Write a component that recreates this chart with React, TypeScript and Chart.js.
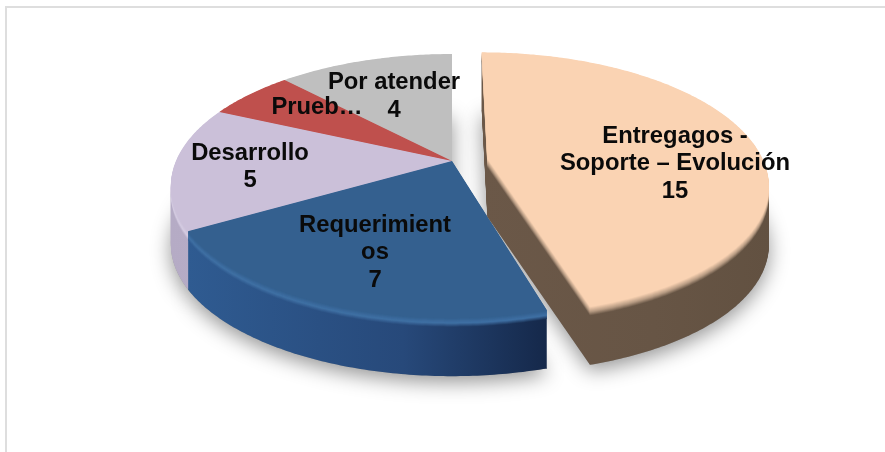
import React, { useEffect, useRef } from "react";
import { Chart, registerables } from "chart.js";

Chart.register(...registerables);

const categories = ["Entregagos - Soporte – Evolución", "Requerimientos", "Desarrollo", "Pruebas", "Por atender"];
const values = [15, 7, 5, 2, 4];
const labelLines = [
  ["Entregagos -", "Soporte – Evolución", "15"],
  ["Requerimient", "os", "7"],
  ["Desarrollo", "5"],
  ["Prueb…"],
  ["Por atender", "4"],
];

const topColors = ["#FAD3B3", "#34608F", "#CBC0D9", "#BF504D", "#BFBFBF"];
const rimColors = ["#B89C84", "#3F70A4", "#D6CDE3", "#D0625F", "#CCCCCC"];
const wallLeft = ["#6B5848", "#2F5B91", "#B5ABC5", "#8E3B39", "#8F8F8F"];
const wallMid = ["#675545", "#27497A", "#BBB1CB", "#8E3B39", "#8F8F8F"];
const wallRight = ["#625141", "#15284A", "#BDB3CC", "#8E3B39", "#8F8F8F"];
const labelCentres: [number, number][] = [[675, 136], [375, 225], [250, 153], [317, 107], [394, 82.5]];

const CX = 452, CY = 161, RX = 276, RY = 127.3, K = 0.19, DEPTH = 58, RIM = 9, EXPLODE = 0.13;
const LINE_H = 27.7;

function project(u: number, v: number): [number, number] {
  const d = 1 - K * v;
  return [CX + (RX * u) / d, CY + (RY * v) / d];
}

function slicePoints(arc: any): [number, number][] {
  const mid = (arc.startAngle + arc.endAngle) / 2;
  const e = arc.options.offset ? EXPLODE : 0;
  const du = Math.cos(mid) * e, dv = Math.sin(mid) * e;
  const pts: [number, number][] = [project(du, dv)];
  const n = Math.ceil((arc.endAngle - arc.startAngle) / 0.0125);
  for (let i = 0; i <= n; i++) {
    const a = arc.startAngle + ((arc.endAngle - arc.startAngle) * i) / n;
    pts.push(project(du + Math.cos(a), dv + Math.sin(a)));
  }
  return pts;
}

function fillPts(ctx: CanvasRenderingContext2D, pts: [number, number][], dy: number) {
  ctx.beginPath();
  pts.forEach((p, i) => (i ? ctx.lineTo(p[0], p[1] + dy) : ctx.moveTo(p[0], p[1] + dy)));
  ctx.closePath();
  ctx.fill();
}

function hex(c: string) {
  return [1, 3, 5].map((i) => parseInt(c.slice(i, i + 2), 16));
}
function mix(a: string, b: string, t: number) {
  const x = hex(a), y = hex(b);
  return `rgb(${x.map((v, i) => Math.round(v + (y[i] - v) * t)).join(",")})`;
}

const pie3d = {
  id: "pie3d",
  beforeDraw(chart: any) {
    const { ctx, width, height } = chart;
    ctx.save();
    ctx.fillStyle = "#fff";
    ctx.fillRect(0, 0, width, height);
    ctx.fillStyle = "#DEDEDE";
    ctx.fillRect(5, 6, width - 5, 2);
    ctx.fillRect(5, 6, 2, height - 6);
    ctx.restore();
  },
  beforeDatasetDraw(chart: any) {
    const ctx: CanvasRenderingContext2D = chart.ctx;
    const arcs = chart.getDatasetMeta(0).data;
    const polys = arcs.map(slicePoints);
    ctx.save();
    // soft cast shadow
    ctx.shadowColor = "rgba(0,0,0,0.42)";
    ctx.shadowBlur = 20;
    ctx.shadowOffsetY = 6;
    ctx.fillStyle = "#999";
    polys.forEach((p: [number, number][]) => fillPts(ctx, p, DEPTH));
    ctx.shadowColor = "transparent";
    ctx.shadowBlur = 0;
    ctx.shadowOffsetY = 0;

    const drawWalls = (i: number) => {
      const xs = polys[i].map((p: number[]) => p[0]);
      const g = ctx.createLinearGradient(Math.min(...xs), 0, Math.max(...xs), 0);
      g.addColorStop(0, wallLeft[i]);
      g.addColorStop(0.6, wallMid[i]);
      g.addColorStop(1, wallRight[i]);
      ctx.fillStyle = g;
      for (let t = DEPTH; t > RIM; t--) fillPts(ctx, polys[i], t);
      for (let t = RIM; t > 0; t -= 0.5) {
        const f = t / RIM;
        if (f > 0.55) {
          const s = ctx.createLinearGradient(Math.min(...xs), 0, Math.max(...xs), 0);
          const w = (f - 0.55) / 0.45;
          s.addColorStop(0, mix(rimColors[i], wallLeft[i], w));
          s.addColorStop(0.6, mix(rimColors[i], wallMid[i], w));
          s.addColorStop(1, mix(rimColors[i], wallRight[i], w));
          ctx.fillStyle = s;
        } else {
          ctx.fillStyle = mix(topColors[i], rimColors[i], f / 0.55);
        }
        fillPts(ctx, polys[i], t);
      }
    };
    const back = [4, 3, 2, 1];
    back.forEach(drawWalls);
    back.forEach((i) => {
      ctx.fillStyle = topColors[i];
      fillPts(ctx, polys[i], 0);
    });
    drawWalls(0);
    ctx.fillStyle = topColors[0];
    fillPts(ctx, polys[0], 0);
    ctx.restore();
    return false;
  },
  afterDatasetsDraw(chart: any) {
    const ctx: CanvasRenderingContext2D = chart.ctx;
    ctx.save();
    ctx.font = 'bold 23.8px "Liberation Sans", Arial, sans-serif';
    ctx.fillStyle = "#0A0A0A";
    ctx.textAlign = "center";
    ctx.textBaseline = "middle";
    labelLines.forEach((lines, i) => {
      const [x, y] = labelCentres[i];
      lines.forEach((l, j) => ctx.fillText(l, x, y + j * LINE_H));
    });
    ctx.restore();
  },
};

export default function App() {
  const ref = useRef<HTMLCanvasElement>(null);
  useEffect(() => {
    document.body.style.margin = "0";
    const chart = new Chart(ref.current!, {
      type: "pie",
      data: {
        labels: categories,
        datasets: [{ data: values, backgroundColor: topColors, borderWidth: 0, offset: [20, 0, 0, 0, 0] }],
      },
      options: {
        responsive: false,
        animation: false,
        plugins: { legend: { display: false }, tooltip: { enabled: false } },
      },
      plugins: [pie3d],
    } as any);
    return () => chart.destroy();
  }, []);
  return <canvas ref={ref} width={885} height={452} style={{ display: "block" }} />;
}
